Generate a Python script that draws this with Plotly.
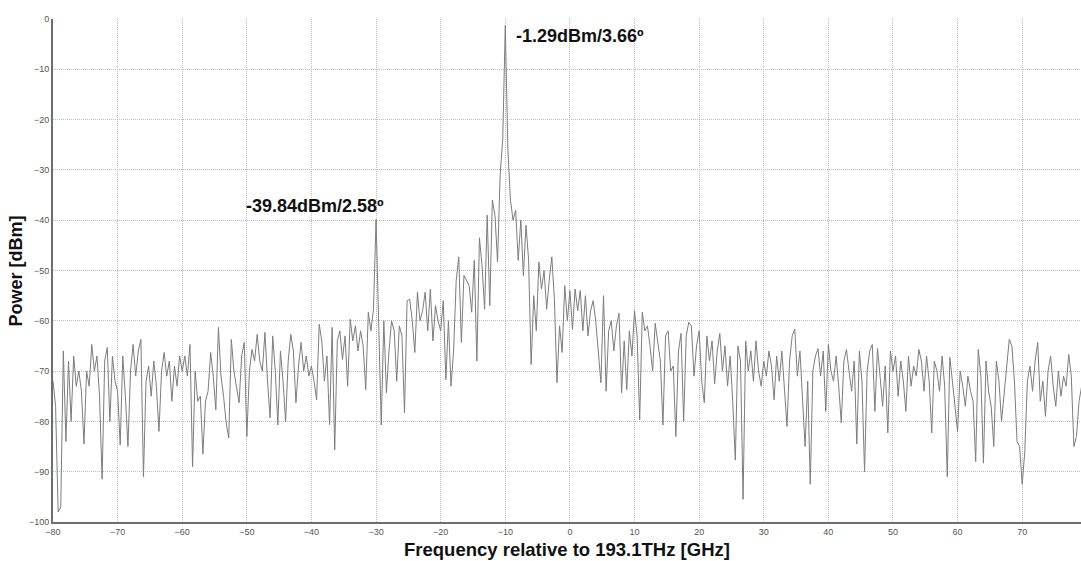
import plotly.graph_objects as go

# Frequency grid (GHz relative to 193.1 THz), 0.4 GHz steps from -80.0 to 79.6
freq_start = -80.0
freq_step = 0.4

# Power values [dBm], one row per 10 GHz
power_m80 = [-72, -77, -98, -97, -66, -84, -68, -80, -67, -73, -70, -74, -84.5, -70, -73, -64.7, -70, -67, -75, -91.5, -68, -65.3, -80, -67, -72]
power_m70 = [-74, -84.7, -67, -75, -85, -70, -64.7, -71, -66, -63.7, -91, -72, -69, -75, -68, -73, -82, -70, -66.3, -71, -68, -76, -69, -73, -67]
power_m60 = [-70, -67, -71, -64.7, -89, -70, -76, -75, -86.5, -76, -74, -66.3, -71, -77.7, -61.3, -71, -75, -80.3, -83.3, -63.7, -70, -73, -76.3, -67, -64.3]
power_m50 = [-83, -70, -65.7, -68, -62.7, -68, -70, -62.3, -72, -79.3, -63, -70, -80.7, -66, -72, -80, -68, -62.7, -66, -76.3, -69, -64.3, -70, -67, -71]
power_m40 = [-69, -72, -75.7, -60.7, -64, -72, -67, -80.7, -61.3, -85.7, -64, -62, -67.7, -63, -73, -59.7, -64, -61, -66, -62, -65, -73.7, -58.3, -62, -57.7]
power_m30 = [-39.84, -58, -80.7, -60, -74.3, -66, -60, -62, -72, -61, -63, -78.3, -56, -55.7, -60, -66.3, -54.3, -60, -58, -54.3, -62, -53.7, -64, -57, -60]
power_m20 = [-62, -56, -71.7, -60, -73, -66, -52, -47.3, -64.3, -51, -52, -53, -58.3, -48, -68, -43.5, -49, -57.7, -39, -57, -36, -39, -48.3, -31, -24]
power_m10 = [-1.29, -26, -36, -40, -38, -48, -40, -51, -41, -47.7, -68.7, -55, -62, -48.3, -53.7, -50, -57.7, -52, -47.3, -55.7, -72.3, -61, -66.3, -53, -60]
power_p00 = [-54, -61.7, -53.7, -58, -54, -62, -55, -63, -58, -56, -60, -65.7, -72.3, -55, -74, -62, -60, -66, -61, -58.5, -74.3, -64, -73.7, -62, -67]
power_p10 = [-58, -63, -79.7, -58.3, -62, -61, -65, -70, -60.5, -64, -68, -80.7, -63, -62, -70, -69, -83, -66, -62.5, -80, -63, -60.3, -61, -71, -65]
power_p20 = [-62, -72, -76.3, -63, -68, -64, -72.5, -66, -62.5, -70, -65, -73, -67, -76, -87.7, -65, -68, -95.5, -64, -70, -66, -72, -64, -70, -73]
power_p30 = [-68, -71, -66, -69, -75.7, -67, -72, -66, -74, -81, -68, -63, -61.7, -71, -66, -76, -85, -72, -92.5, -70, -67, -65.5, -71, -66, -78]
power_p40 = [-64.7, -70, -72, -67, -73, -80.3, -68, -65.7, -70, -74, -68, -84.5, -66, -72, -90, -70, -66, -64.7, -78, -65.5, -71, -77, -69, -82.3, -66]
power_p50 = [-70, -67, -75, -68, -72, -78, -67, -73, -69, -71, -65.7, -68, -74, -67, -72, -82.3, -68, -70, -74, -67, -73, -91, -67.3, -72, -77]
power_p60 = [-82, -70, -73, -77, -71, -74, -76, -88, -65.7, -71, -88.3, -68, -74, -77, -85, -68, -72, -80, -75, -69, -63.7, -65, -72, -84, -85]
power_p70 = [-92.5, -86, -72, -69, -74, -68, -64.3, -76, -72, -79, -70, -67, -73, -77, -70, -75, -71, -73, -66.7, -71, -85, -83, -76, -73, -75]

power = (power_m80 + power_m70 + power_m60 + power_m50 + power_m40 + power_m30 + power_m20 + power_m10
         + power_p00 + power_p10 + power_p20 + power_p30 + power_p40 + power_p50 + power_p60 + power_p70)
freq = [round(freq_start + i * freq_step, 2) for i in range(len(power))]

x_ticks = list(range(-80, 80, 10))
y_ticks = list(range(-100, 1, 10))

peak_labels = ["-1.29dBm/3.66º", "-39.84dBm/2.58º"]
x_title = "Frequency relative to 193.1THz [GHz]"
y_title = "Power [dBm]"

fig = go.Figure()
fig.add_trace(go.Scatter(x=freq, y=power, mode="lines",
                         line=dict(color="#7d7d7d", width=1), showlegend=False))

axis_common = dict(showline=True, linecolor="#6e6e6e", linewidth=2,
                   showgrid=True, gridcolor="#bdbdbd", gridwidth=1, griddash="1px,1px",
                   zeroline=False, ticks="", tickfont=dict(family="Liberation Sans, Arial", size=9, color="#555555"))

fig.update_xaxes(range=[-80, 79.1], tickvals=x_ticks, **axis_common)
fig.update_yaxes(range=[-100, 0], tickvals=y_ticks, **axis_common)

bold_font = dict(family="Liberation Sans, Arial", size=18, color="#111111")
fig.add_annotation(x=-8.6, xref="x", y=-3.3, yref="y", text="<b>%s</b>" % peak_labels[0],
                   showarrow=False, xanchor="left", yanchor="middle", font=bold_font)
fig.add_annotation(x=-50.4, xref="x", y=-37.2, yref="y", text="<b>%s</b>" % peak_labels[1],
                   showarrow=False, xanchor="left", yanchor="middle", font=bold_font)
fig.add_annotation(x=0.5, xref="paper", y=-0.054, yref="paper", text="<b>%s</b>" % x_title,
                   showarrow=False, xanchor="center", yanchor="middle",
                   font=dict(family="Liberation Sans, Arial", size=18.5, color="#111111"))
fig.add_annotation(x=-0.036, xref="paper", y=0.5, yref="paper", text="<b>%s</b>" % y_title,
                   showarrow=False, xanchor="center", yanchor="middle", textangle=-90,
                   font=dict(family="Liberation Sans, Arial", size=18, color="#111111"))

fig.update_layout(width=1081, height=561, margin=dict(l=53, r=0, t=19, b=39),
                  paper_bgcolor="white", plot_bgcolor="white")

fig.write_html("out.html", config={"displayModeBar": False},
               post_script="document.body.style.margin='0';document.body.style.overflow='hidden';")
